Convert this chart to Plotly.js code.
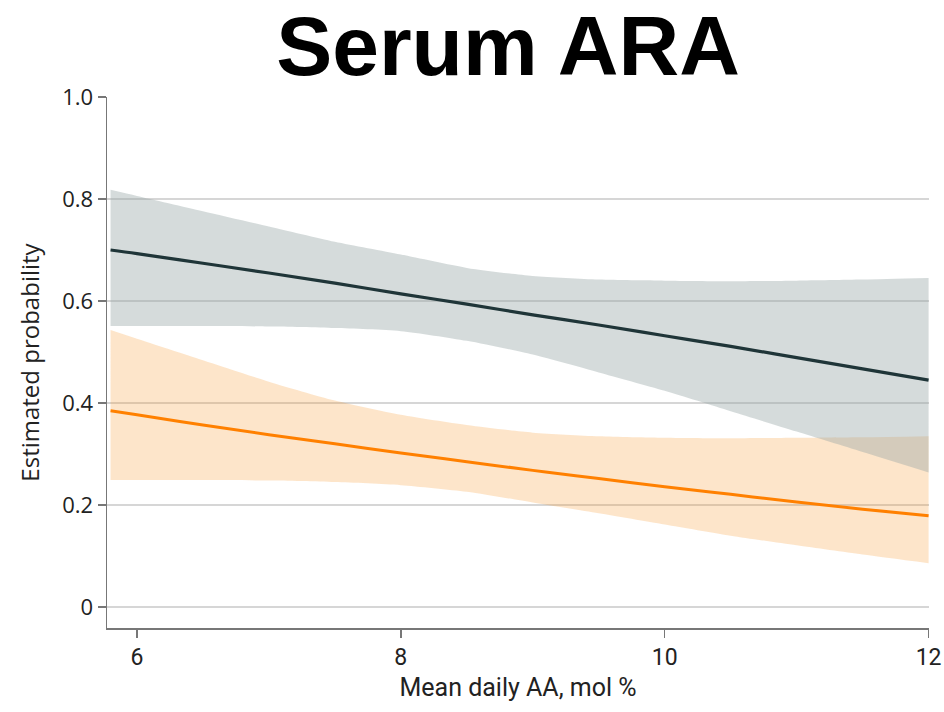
<!DOCTYPE html>
<html>
<head>
<meta charset="utf-8">
<script src="https://cdn.plot.ly/plotly-3.0.1.min.js"></script>
<style>html,body{margin:0;padding:0;background:#fff;} #chart{width:944px;height:712px;}</style>
</head>
<body>
<div id="chart"></div>
<script>
// Mean daily AA, mol %
const xVals = [5.8, 6, 6.5, 7, 7.5, 8, 8.5, 9, 9.5, 10, 10.5, 11, 11.5, 12];

// Gray series (estimate + 95% CI)
const grayEst   = [0.700, 0.693, 0.674, 0.655, 0.635, 0.614, 0.594, 0.573, 0.553, 0.532, 0.511, 0.489, 0.467, 0.445];
const grayUpper = [0.818, 0.806, 0.776, 0.746, 0.716, 0.691, 0.665, 0.649, 0.642, 0.640, 0.639, 0.640, 0.642, 0.645];
const grayLower = [0.551, 0.551, 0.551, 0.550, 0.547, 0.541, 0.522, 0.495, 0.460, 0.424, 0.384, 0.344, 0.304, 0.264];

// Orange series (estimate + 95% CI)
const orangeEst   = [0.385, 0.377, 0.357, 0.338, 0.320, 0.302, 0.285, 0.268, 0.252, 0.236, 0.221, 0.206, 0.192, 0.179];
const orangeUpper = [0.543, 0.526, 0.484, 0.442, 0.405, 0.377, 0.357, 0.342, 0.335, 0.332, 0.331, 0.332, 0.333, 0.335];
const orangeLower = [0.249, 0.249, 0.249, 0.248, 0.245, 0.239, 0.226, 0.205, 0.184, 0.162, 0.140, 0.121, 0.103, 0.086];

const yTickVals = [0, 0.2, 0.4, 0.6, 0.8, 1.0];
const yTickText = ['0', '0.2', '0.4', '0.6', '0.8', '1.0'];
const xTickVals = [6, 8, 10, 12];

function band(upper, lower, color) {
  return [
    {x: xVals, y: lower, type: 'scatter', mode: 'lines',
     line: {width: 0, color: 'rgba(0,0,0,0)', shape: 'spline', smoothing: 0.7},
     hoverinfo: 'skip', showlegend: false},
    {x: xVals, y: upper, type: 'scatter', mode: 'lines', fill: 'tonexty', fillcolor: color,
     line: {width: 0, color: 'rgba(0,0,0,0)', shape: 'spline', smoothing: 0.7},
     hoverinfo: 'skip', showlegend: false}
  ];
}

const traces = [].concat(
  band(orangeUpper, orangeLower, 'rgba(247,145,35,0.24)'),
  band(grayUpper, grayLower, 'rgba(150,165,165,0.4)'),
  [
    {x: xVals, y: orangeEst, type: 'scatter', mode: 'lines', line: {color: '#ff8000', width: 3, shape: 'spline'}, showlegend: false},
    {x: xVals, y: grayEst, type: 'scatter', mode: 'lines', line: {color: '#1f3538', width: 3.2, shape: 'spline'}, showlegend: false}
  ]
);

const layout = {
  width: 944, height: 712,
  paper_bgcolor: '#fff', plot_bgcolor: '#fff',
  margin: {l: 107, r: 15, t: 97, b: 84},
  showlegend: false,
  title: {
    text: '<b>Serum ARA</b>',
    font: {family: 'Liberation Sans, Arial, sans-serif', size: 84, color: '#000'},
    x: 508/944, xanchor: 'center', xref: 'container',
    y: 1 - 46/712, yanchor: 'middle', yref: 'container'
  },
  xaxis: {
    range: [5.773, 12.003],
    tickvals: xTickVals,
    ticks: 'outside', ticklen: 8, tickwidth: 1.5, tickcolor: '#777',
    showline: true, linecolor: '#777', linewidth: 1.5,
    showgrid: false, zeroline: false,
    tickfont: {family: 'Roboto, sans-serif', size: 23, color: '#222'},
    title: {text: 'Mean daily AA, mol %', font: {family: 'Roboto, sans-serif', size: 25, color: '#222'}, standoff: 8}
  },
  yaxis: {
    range: [-0.041, 1.0],
    tickvals: yTickVals, ticktext: yTickText,
    ticks: 'outside', ticklen: 8, tickwidth: 1.5, tickcolor: '#777',
    showline: true, linecolor: '#777', linewidth: 1.5,
    showgrid: true, gridcolor: '#d6d6d6', gridwidth: 1.5, zeroline: false,
    tickfont: {family: 'Open Sans, sans-serif', size: 22, color: '#222'},
    title: {text: 'Estimated probability', font: {family: 'Open Sans, sans-serif', size: 24, color: '#222'}, standoff: 16}
  }
};

Plotly.newPlot('chart', traces, layout, {displayModeBar: false, staticPlot: true});
</script>
</body>
</html>
